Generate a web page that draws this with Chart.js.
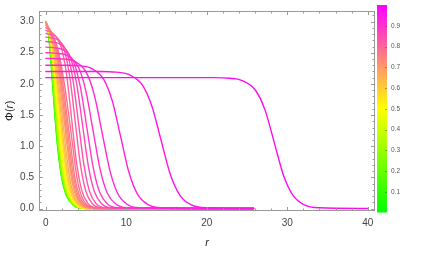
<!DOCTYPE html>
<html><head><meta charset="utf-8">
<script src="https://cdn.jsdelivr.net/npm/chart.js@4.4.0/dist/chart.umd.min.js"></script>
<style>html,body{margin:0;padding:0;background:#fff;overflow:hidden}#wrap{width:421px;height:257px;position:relative}</style>
</head><body>
<div id="wrap"><canvas id="c" width="421" height="257"></canvas></div>
<script>
// ---- data ----
const omegaValues = [0.00,0.10,0.20,0.30,0.40,0.46,0.52,0.58,0.62,0.66,0.70,0.72,0.74,0.76,0.78,
                     0.80,0.82,0.84,0.86,0.88,0.90,0.92,0.94,0.96,0.98];
const curveR = [
  [0,0.29,0.55,0.84,1.12,1.46,1.96,2.58,3.48,5.0,25.8],
  [0,0.29,0.56,0.86,1.14,1.48,1.98,2.60,3.50,5.0,25.8],
  [0,0.30,0.59,0.89,1.18,1.52,2.02,2.64,3.53,5.1,25.8],
  [0,0.33,0.66,0.97,1.26,1.60,2.10,2.72,3.61,5.2,25.8],
  [0,0.35,0.74,1.07,1.37,1.73,2.23,2.85,3.73,5.3,25.8],
  [0,0.36,0.80,1.15,1.48,1.85,2.35,2.96,3.84,5.4,25.8],
  [0,0.37,0.86,1.23,1.61,1.98,2.48,3.09,3.96,5.6,25.8],
  [0,0.40,0.95,1.36,1.75,2.14,2.64,3.25,4.11,5.7,25.8],
  [0,0.42,1.03,1.47,1.88,2.28,2.79,3.38,4.24,5.9,25.8],
  [0,0.45,1.12,1.60,2.02,2.45,2.96,3.55,4.39,6.1,25.8],
  [0,0.48,1.25,1.76,2.20,2.65,3.16,3.75,4.58,6.3,25.8],
  [0,0.50,1.32,1.86,2.33,2.78,3.29,3.88,4.70,6.4,25.8],
  [0,0.53,1.40,1.98,2.47,2.93,3.44,4.02,4.84,6.6,25.8],
  [0,0.57,1.50,2.12,2.62,3.10,3.61,4.19,4.99,6.8,25.8],
  [0,0.60,1.60,2.30,2.85,3.35,3.86,4.43,5.22,7.0,25.8],
  [0,0.97,1.95,2.58,3.21,3.84,4.47,5.21,6.25,25.8],
  [0,0.46,1.30,2.32,2.98,3.64,4.30,4.96,5.73,6.82,25.8],
  [0,0.75,1.63,2.69,3.37,4.06,4.75,5.43,6.23,7.37,25.8],
  [0,0.99,1.93,3.08,3.82,4.56,5.30,6.04,6.91,8.13,25.8],
  [0,1.26,2.28,3.51,4.30,5.10,5.90,6.69,7.62,8.94,25.8],
  [0,1.64,2.76,4.11,4.99,5.87,6.75,7.63,8.65,10.11,25.8],
  [0,2.38,3.60,5.09,6.05,7.01,7.97,8.93,10.05,11.64,25.8],
  [0,2.46,4.27,5.60,7.21,8.26,9.30,10.34,11.39,12.60,14.33,25.8],
  [0,6.75,8.75,10.22,12.00,13.16,14.31,15.46,16.62,17.96,19.87,25.8],
  [0,20.84,22.84,24.31,26.09,27.25,28.40,29.55,30.71,32.05,33.96,40.0]
];
const curvePhi = [
  [3.00,2.85,2.5,2.0,1.5,1.0,0.5,0.2,0.05,0,0],
  [3.00,2.85,2.5,2.0,1.5,1.0,0.5,0.2,0.05,0,0],
  [3.00,2.85,2.5,2.0,1.5,1.0,0.5,0.2,0.05,0,0],
  [3.00,2.85,2.5,2.0,1.5,1.0,0.5,0.2,0.05,0,0],
  [3.00,2.85,2.5,2.0,1.5,1.0,0.5,0.2,0.05,0,0],
  [3.00,2.85,2.5,2.0,1.5,1.0,0.5,0.2,0.05,0,0],
  [3.00,2.85,2.5,2.0,1.5,1.0,0.5,0.2,0.05,0,0],
  [3.00,2.85,2.5,2.0,1.5,1.0,0.5,0.2,0.05,0,0],
  [3.00,2.85,2.5,2.0,1.5,1.0,0.5,0.2,0.05,0,0],
  [3.00,2.85,2.5,2.0,1.5,1.0,0.5,0.2,0.05,0,0],
  [3.00,2.85,2.5,2.0,1.5,1.0,0.5,0.2,0.05,0,0],
  [2.99,2.85,2.5,2.0,1.5,1.0,0.5,0.2,0.05,0,0],
  [2.97,2.85,2.5,2.0,1.5,1.0,0.5,0.2,0.05,0,0],
  [2.94,2.85,2.5,2.0,1.5,1.0,0.5,0.2,0.05,0,0],
  [2.90,2.85,2.5,2.0,1.5,1.0,0.5,0.2,0.05,0,0],
  [2.86,2.80,2.57,2.15,1.43,0.715,0.286,0.086,0.014,0],
  [2.81,2.796,2.754,2.529,2.108,1.405,0.703,0.281,0.084,0.014,0],
  [2.75,2.736,2.695,2.475,2.063,1.375,0.688,0.275,0.083,0.014,0],
  [2.68,2.667,2.626,2.412,2.01,1.34,0.67,0.268,0.08,0.013,0],
  [2.59,2.577,2.538,2.331,1.943,1.295,0.648,0.259,0.078,0.013,0],
  [2.50,2.488,2.45,2.25,1.875,1.25,0.625,0.25,0.075,0.013,0],
  [2.41,2.398,2.362,2.169,1.808,1.205,0.603,0.241,0.072,0.012,0],
  [2.30,2.30,2.289,2.254,2.07,1.725,1.15,0.575,0.23,0.069,0.012,0],
  [2.20,2.20,2.189,2.156,1.98,1.65,1.10,0.55,0.22,0.066,0.011,0],
  [2.10,2.10,2.0895,2.058,1.89,1.575,1.05,0.525,0.21,0.063,0.011,0]
];
const xTicks = [0,10,20,30,40];
const yTicks = [0,0.5,1.0,1.5,2.0,2.5,3.0];
const colorbarTicks = [0.1,0.2,0.3,0.4,0.5,0.6,0.7,0.8,0.9];

// ---- styling helpers ----
function colorFor(t){
  let r,g,b;
  if(t<0.5){ r=2*t; g=1; b=0; } else { r=1; g=2-2*t; b=2*t-1; }
  return `rgb(${Math.round(r*255)},${Math.round(g*255)},${Math.round(b*255)})`;
}
const FONT = '"Liberation Sans", Arial, sans-serif';

const datasets = omegaValues.map((w,i)=>({
  data: curveR[i].map((r,j)=>({x:r, y:curvePhi[i][j]})),
  borderColor: colorFor(w),
  borderWidth: 1.4,
  pointRadius: 0,
  fill: false,
  cubicInterpolationMode: 'monotone',
  order: omegaValues.length - i
}));

const framePlugin = {
  id: 'frame',
  afterDraw(chart){
    const {ctx, chartArea:a, scales:{x, y}} = chart;
    ctx.save();
    ctx.strokeStyle = '#9a9a9a';
    ctx.lineWidth = 1;
    ctx.strokeRect(Math.round(a.left)+0.5, Math.round(a.top)+0.5, Math.round(a.right-a.left)-1, Math.round(a.bottom-a.top)-1);
    ctx.beginPath();
    for(let v=0; v<=40; v+=2){
      const px = Math.round(x.getPixelForValue(v))+0.5;
      const len = (v%10===0)?4:2.5;
      ctx.moveTo(px, a.bottom); ctx.lineTo(px, a.bottom-len);
      ctx.moveTo(px, a.top); ctx.lineTo(px, a.top+len);
    }
    for(let k=0; k<=31; k++){
      const v = k/10;
      const py = Math.round(y.getPixelForValue(v))+0.5;
      const len = (k%5===0)?4:2.5;
      ctx.moveTo(a.left, py); ctx.lineTo(a.left+len, py);
      ctx.moveTo(a.right, py); ctx.lineTo(a.right-len, py);
    }
    ctx.stroke();
    // axis titles
    ctx.fillStyle = '#222';
    ctx.font = 'italic 11px ' + FONT;
    ctx.textAlign = 'center'; ctx.textBaseline = 'middle';
    ctx.fillText('r', (a.left+a.right)/2, 243);
    ctx.save();
    ctx.translate(10, (a.top+a.bottom)/2);
    ctx.rotate(-Math.PI/2);
    ctx.textAlign = 'left';
    const p1 = 'Φ(', p2 = 'r', p3 = ')';
    ctx.font = '11px ' + FONT; const w1 = ctx.measureText(p1).width, w3 = ctx.measureText(p3).width;
    ctx.font = 'italic 11px ' + FONT; const w2 = ctx.measureText(p2).width;
    let sx = -(w1+w2+w3)/2;
    ctx.font = '11px ' + FONT; ctx.fillText(p1, sx, 0); sx += w1;
    ctx.font = 'italic 11px ' + FONT; ctx.fillText(p2, sx, 0); sx += w2 + 0.5;
    ctx.font = '11px ' + FONT; ctx.fillText(p3, sx, 0);
    ctx.restore();
    // colorbar
    const cx0 = 377, cx1 = 387, cTop = 5, cBot = 212.5;
    const grad = ctx.createLinearGradient(0, cBot, 0, cTop);
    grad.addColorStop(0, colorFor(0));
    grad.addColorStop(0.5, colorFor(0.5));
    grad.addColorStop(1, colorFor(1));
    ctx.fillStyle = grad;
    ctx.fillRect(cx0, cTop, cx1-cx0, cBot-cTop);
    ctx.fillStyle = '#555';
    ctx.font = '6.5px ' + FONT;
    ctx.textAlign = 'left'; ctx.textBaseline = 'middle';
    ctx.strokeStyle = 'rgba(80,80,80,0.5)';
    ctx.beginPath();
    colorbarTicks.forEach(v=>{
      const py = cBot - v*(cBot-cTop);
      ctx.moveTo(cx1-2, Math.round(py)+0.5); ctx.lineTo(cx1, Math.round(py)+0.5);
      ctx.fillText(v.toFixed(1), 391, py);
    });
    ctx.stroke();
    ctx.restore();
  }
};

new Chart(document.getElementById('c'), {
  type: 'line',
  data: { datasets },
  options: {
    responsive: false,
    animation: false,
    devicePixelRatio: 1,
    layout: { padding: { left: 0, right: 46, top: 5, bottom: 0 } },
    plugins: { legend: { display: false }, tooltip: { enabled: false } },
    elements: { line: { borderCapStyle: 'round', borderJoinStyle: 'round' } },
    scales: {
      x: {
        type: 'linear', min: -0.85, max: 40.9,
        afterBuildTicks: s => { s.ticks = xTicks.map(v => ({ value: v })); },
        afterFit: s => { s.height = 46; },
        grid: { display: false, drawTicks: false },
        border: { display: false },
        ticks: { color: '#444', font: { size: 10, family: FONT }, padding: 6, maxRotation: 0, autoSkip: false, callback: v => String(v) }
      },
      y: {
        type: 'linear', min: -0.04, max: 3.17,
        afterBuildTicks: s => { s.ticks = yTicks.map(v => ({ value: v })); },
        afterFit: s => { s.width = 39; },
        grid: { display: false, drawTicks: false },
        border: { display: false },
        ticks: { color: '#444', font: { size: 10, family: FONT }, padding: 5, autoSkip: false, callback: v => Number(v).toFixed(1) }
      }
    }
  },
  plugins: [framePlugin]
});
</script>
</body></html>
